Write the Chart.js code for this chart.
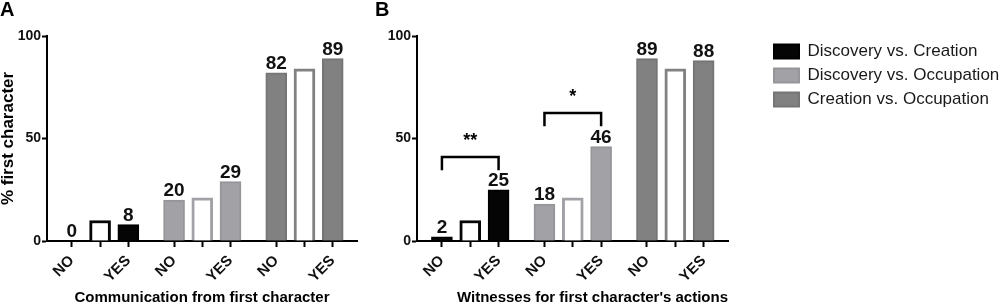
<!DOCTYPE html>
<html><head><meta charset="utf-8">
<script src="https://cdn.jsdelivr.net/npm/chart.js@4.4.1/dist/chart.umd.min.js"></script>
<style>
html,body{margin:0;padding:0;background:#fff;width:1000px;height:308px;overflow:hidden}
#wrapA{position:absolute;left:0;top:0;width:365px;height:308px}
#wrapB{position:absolute;left:365px;top:0;width:635px;height:308px}
</style></head><body>
<div id="wrapA"><canvas id="chartA" width="365" height="308"></canvas></div>
<div id="wrapB"><canvas id="chartB" width="635" height="308"></canvas></div>
<script>
// ---- data ----
const groupNames = ["Discovery vs. Creation", "Discovery vs. Occupation", "Creation vs. Occupation"];
const barTickLabels = ["NO", "", "YES"];
const commNo  = [0, 20, 82];
const commYes = [8, 29, 89];
const commRef = [10, 21, 84];
const witNo   = [2, 18, 89];
const witYes  = [25, 46, 88];
const witRef  = [10, 21, 84];
const yTicks = [0, 50, 100];
const bracketGroups = [0, 1];
const bracketMarks = ["**", "*"];
const bracketTop = [41, 62.5];
const bracketLeg = [34.5, 56];

// ---- styling / layout ----
const FONT = "'Liberation Sans', Arial, Helvetica, sans-serif";
const fillColors = ["#050505", "#a2a2a6", "#818181"];
const edgeColors = ["#000000", "#96969a", "#757575"];
const GROUP_STEP = 3.62;
const X_MIN = -0.88, X_MAX = 10.1;
const pos = (g, i) => g * GROUP_STEP + i;
const tickValues = [], tickText = [];
groupNames.forEach((_, g) => barTickLabels.forEach((t, i) => { tickValues.push(pos(g, i)); tickText.push(t); }));

function makeDatasets(no, yes, ref) {
  const ds = groupNames.map((name, g) => ({
    label: name,
    data: [{x: pos(g, 0), y: no[g]}, {x: pos(g, 2), y: yes[g]}],
    backgroundColor: fillColors[g], borderColor: edgeColors[g], borderWidth: 2,
    grouped: false, barThickness: 21, showValue: true
  }));
  ds.push({
    label: 'ref',
    data: ref.map((v, g) => ({x: pos(g, 1), y: v})),
    backgroundColor: '#ffffff', borderColor: fillColors, borderWidth: 3,
    grouped: false, barThickness: 21, showValue: false
  });
  return ds;
}

const valueLabels = {
  id: 'valueLabels',
  afterDatasetsDraw(chart) {
    const ctx = chart.ctx;
    ctx.save();
    ctx.font = `bold 19px ${FONT}`;
    ctx.fillStyle = '#111';
    ctx.textAlign = 'center';
    ctx.textBaseline = 'alphabetic';
    chart.data.datasets.forEach((ds, i) => {
      if (!ds.showValue) return;
      chart.getDatasetMeta(i).data.forEach((el, j) => {
        ctx.fillText(String(ds.data[j].y), el.x, el.y - 4);
      });
    });
    ctx.restore();
  }
};

const brackets = {
  id: 'brackets',
  afterDatasetsDraw(chart, args, opts) {
    if (!opts || !opts.show) return;
    const ctx = chart.ctx, xs = chart.scales.x, ys = chart.scales.y;
    ctx.save();
    ctx.strokeStyle = '#000';
    ctx.lineWidth = 2.5;
    ctx.fillStyle = '#000';
    ctx.font = `bold 18px ${FONT}`;
    ctx.textAlign = 'center';
    ctx.textBaseline = 'alphabetic';
    bracketGroups.forEach((g, k) => {
      const x1 = xs.getPixelForValue(pos(g, 0));
      const x2 = xs.getPixelForValue(pos(g, 2));
      const yt = ys.getPixelForValue(bracketTop[k]);
      const yl = ys.getPixelForValue(bracketLeg[k]);
      ctx.beginPath();
      ctx.moveTo(x1, yl); ctx.lineTo(x1, yt); ctx.lineTo(x2, yt); ctx.lineTo(x2, yl);
      ctx.stroke();
      const m = ctx.measureText(bracketMarks[k]);
      ctx.fillText(bracketMarks[k], (x1 + x2) / 2, yt - 5 + m.actualBoundingBoxDescent);
    });
    ctx.restore();
  }
};

function makeOptions(cfg) {
  const scales = {
    x: {
      type: 'linear', min: X_MIN, max: X_MAX, offset: false,
      afterBuildTicks: s => { s.ticks = tickValues.map(v => ({value: v})); },
      afterFit: s => { s.height = 67; },
      ticks: {autoSkip: false, minRotation: 45, maxRotation: 45, padding: 5, color: '#111',
        font: {family: FONT, size: 15, weight: 'bold'}, callback: (v, i) => tickText[i]},
      grid: {display: true, drawOnChartArea: false, drawTicks: true, tickLength: 6, tickColor: '#000', tickWidth: 2, offset: false},
      border: {display: true, color: '#000', width: 2},
      title: {display: true, text: cfg.xTitle, align: cfg.xAlign, color: '#000',
        font: {family: FONT, size: 15, weight: 'bold'}, padding: {top: 0, bottom: 1}}
    },
    y: {
      type: 'linear', position: 'left', min: 0, max: 100,
      afterBuildTicks: s => { s.ticks = yTicks.map(v => ({value: v})); },
      afterFit: s => { s.width = cfg.yWidth; },
      ticks: {padding: 1, color: '#111', font: {family: FONT, size: 14, weight: 'bold'}},
      grid: {display: true, drawOnChartArea: false, drawTicks: true, tickLength: 5, tickColor: '#000', tickWidth: 2},
      border: {display: true, color: '#000', width: 2},
      title: {display: !!cfg.yTitle, text: cfg.yTitle || '', color: '#000',
        font: {family: FONT, size: 17, weight: 'bold', lineHeight: 1}, padding: {top: 0, bottom: 0}}
    }
  };
  if (cfg.legend) {
    scales.yPad = {
      type: 'linear', position: 'right', display: true,
      afterFit: s => { s.width = 39; },
      ticks: {display: false}, grid: {display: false, drawTicks: false}, border: {display: false}
    };
  }
  return {
    responsive: false, animation: false, devicePixelRatio: 1,
    layout: {padding: {left: cfg.padLeft, right: cfg.padRight, top: 0, bottom: 0}},
    plugins: {
      legend: cfg.legend ? {
        display: true, position: 'right', align: 'start', fullSize: false, maxWidth: 233,
        labels: {boxWidth: 25, boxHeight: 14, padding: 7, color: '#1a1a1a',
          font: {family: FONT, size: 17}, filter: item => item.datasetIndex < groupNames.length}
      } : {display: false},
      title: {display: true, text: cfg.letter, align: 'start', color: '#000',
        font: {family: FONT, size: 20, weight: 'bold', lineHeight: 1}, padding: {top: 0, bottom: 16}},
      tooltip: {enabled: false},
      brackets: {show: !!cfg.brackets}
    },
    scales
  };
}

new Chart(document.getElementById('chartA'), {
  type: 'bar',
  data: {datasets: makeDatasets(commNo, commYes, commRef)},
  options: makeOptions({letter: 'A', xTitle: 'Communication from first character', xAlign: 'center',
    yTitle: '% first character', yWidth: 47, padLeft: 0, padRight: 8, legend: false, brackets: false}),
  plugins: [valueLabels, brackets]
});

new Chart(document.getElementById('chartB'), {
  type: 'bar',
  data: {datasets: makeDatasets(witNo, witYes, witRef)},
  options: makeOptions({letter: 'B', xTitle: "Witnesses for first character's actions", xAlign: 'end',
    yTitle: null, yWidth: 42, padLeft: 10, padRight: 0, legend: true, brackets: true}),
  plugins: [valueLabels, brackets]
});
</script>
</body></html>
